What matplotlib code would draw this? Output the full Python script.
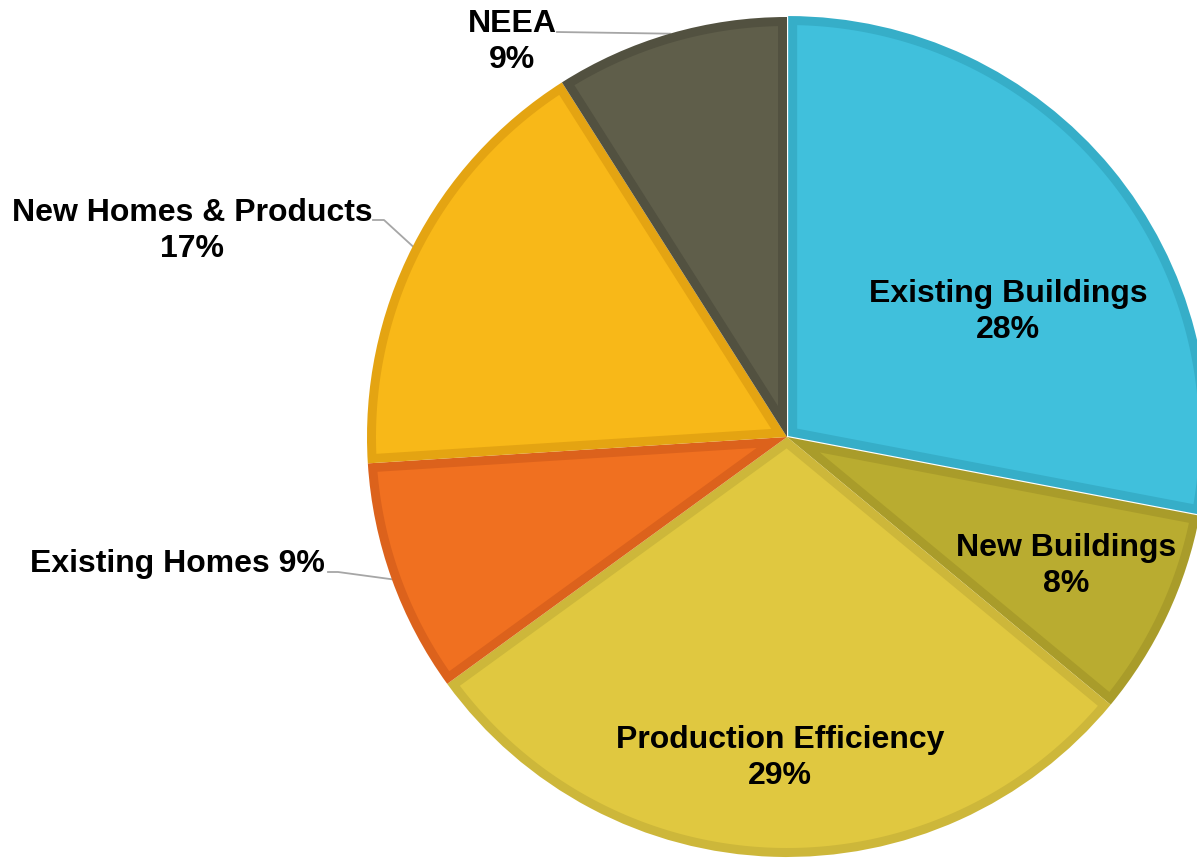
import numpy as np
import matplotlib

matplotlib.use("Agg")
import matplotlib.pyplot as plt
from matplotlib.patches import Polygon

plt.rcParams["font.family"] = ["Liberation Sans", "DejaVu Sans"]

# slice data, clockwise from 12 o'clock
categories = ["Existing Buildings", "New Buildings", "Production Efficiency",
              "Existing Homes", "New Homes & Products", "NEEA"]
shares = [28, 8, 29, 9, 17, 9]

fills = ["#40C0DC", "#B9AC30", "#E0C840", "#F07020", "#F8B818", "#5F5E4A"]
borders = ["#36AEC8", "#A99C2A", "#CDB73A", "#DC621C", "#E4A412", "#525140"]

W, H = 1197, 859
CX, CY, R = 787, H - 437, 420
BORDER = 9  # px, darker rim inside every slice

fig = plt.figure(figsize=(W / 100, H / 100), dpi=100)
ax = fig.add_axes([0, 0, 1, 1])

explode = [1.5, 0, 0, 0, 0, 0]
wedges, _ = ax.pie(shares, radius=R, center=(CX, CY), startangle=90,
                   counterclock=False, explode=explode, frame=True,
                   colors=borders, wedgeprops=dict(linewidth=0))
ax.set_xlim(0, W)
ax.set_ylim(0, H)
ax.set_aspect("equal")
ax.axis("off")


def inset_polygon(w, d):
    """Sector shrunk by d on all sides (apex, inner arc)."""
    cx, cy = w.center
    r = w.r
    t1, t2 = np.deg2rad(w.theta1), np.deg2rad(w.theta2)
    half = (t2 - t1) / 2
    mid = t1 + half
    apex = (cx + d / np.sin(half) * np.cos(mid), cy + d / np.sin(half) * np.sin(mid))
    delta = np.arcsin(d / (r - d))
    arc = np.linspace(t1 + delta, t2 - delta, 200)
    pts = [apex] + [(cx + (r - d) * np.cos(a), cy + (r - d) * np.sin(a)) for a in arc]
    return np.array(pts)


for w, fc in zip(wedges, fills):
    ax.add_patch(Polygon(inset_polygon(w, BORDER), closed=True,
                         facecolor=fc, edgecolor="none", zorder=w.get_zorder() + 0.1))

fs = 23
text_kw = dict(fontsize=fs, fontweight="bold", color="black",
               ha="center", va="center", linespacing=1.25, zorder=5)

# labels inside the pie
inside = {
    0: (1008, H - 312),
    1: (1066, H - 566),
    2: (780, H - 758),
}
for i, (x, y) in inside.items():
    ax.text(x, y, f"{categories[i]}\n{shares[i]}%", **text_kw)


def edge_point(i):
    w = wedges[i]
    mid = np.deg2rad((w.theta1 + w.theta2) / 2)
    return CX + R * np.cos(mid), CY + R * np.sin(mid)


# outside labels with leader lines
lead_kw = dict(color="#A6A6A6", lw=1.3, zorder=0)

# Existing Homes
ax.text(177, H - 564, f"{categories[3]} {shares[3]}%", **text_kw)
ex, ey = edge_point(3)
ax.plot([328, 338, ex], [H - 572, H - 572, ey], **lead_kw)

# New Homes & Products
ax.text(192, H - 231, f"{categories[4]}\n{shares[4]}%", **text_kw)
ex, ey = edge_point(4)
ax.plot([373, 384, ex], [H - 220, H - 220, ey], **lead_kw)

# NEEA
ax.text(512, H - 42, f"{categories[5]}\n{shares[5]}%", **text_kw)
ex, ey = edge_point(5)
ax.plot([557, ex], [H - 32, ey], **lead_kw)

fig.savefig("out.png", dpi=100, facecolor="white")
